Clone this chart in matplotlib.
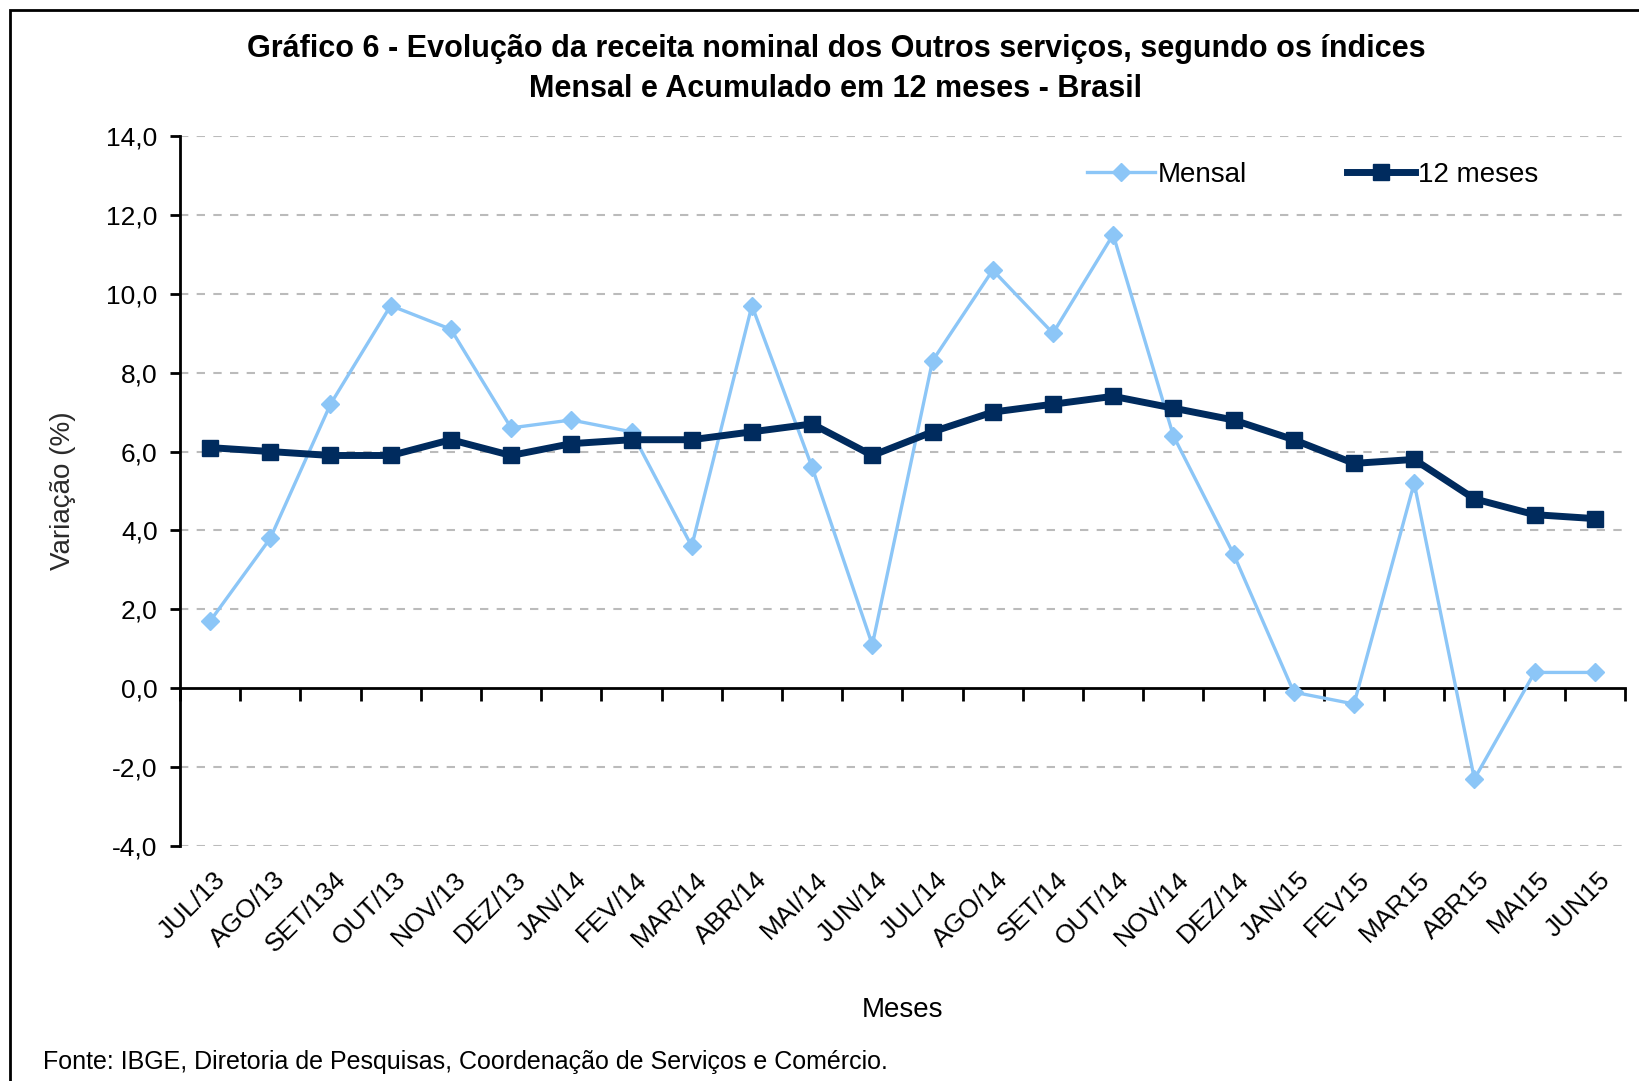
import numpy as np
import matplotlib.pyplot as plt
from matplotlib.patches import Rectangle

plt.rcParams['font.family'] = ['Liberation Sans', 'DejaVu Sans']

meses = ['JUL/13', 'AGO/13', 'SET/134', 'OUT/13', 'NOV/13', 'DEZ/13',
         'JAN/14', 'FEV/14', 'MAR/14', 'ABR/14', 'MAI/14', 'JUN/14',
         'JUL/14', 'AGO/14', 'SET/14', 'OUT/14', 'NOV/14', 'DEZ/14',
         'JAN/15', 'FEV15', 'MAR15', 'ABR15', 'MAI15', 'JUN15']
mensal = [1.7, 3.8, 7.2, 9.7, 9.1, 6.6, 6.8, 6.5, 3.6, 9.7, 5.6, 1.1,
          8.3, 10.6, 9.0, 11.5, 6.4, 3.4, -0.1, -0.4, 5.2, -2.3, 0.4, 0.4]
doze_meses = [6.1, 6.0, 5.9, 5.9, 6.3, 5.9, 6.2, 6.3, 6.3, 6.5, 6.7, 5.9,
              6.5, 7.0, 7.2, 7.4, 7.1, 6.8, 6.3, 5.7, 5.8, 4.8, 4.4, 4.3]
y_ticks = [-4, -2, 0, 2, 4, 6, 8, 10, 12, 14]

fig = plt.figure(figsize=(16.39, 10.81), dpi=100)
ax = fig.add_axes([0.1098, 0.2174, 0.8816, 0.6568])

x = np.arange(len(meses))
ax.plot(x, mensal, color='#8CC6F7', lw=2.4, marker='D', ms=9,
        label='Mensal', zorder=3)
ax.plot(x, doze_meses, color='#002B5E', lw=5, marker='s', ms=11,
        label='12 meses', zorder=4)

ax.set_xlim(-0.5, len(meses) - 0.5)
ax.set_ylim(-4, 14)
ax.set_yticks(y_ticks)
ax.set_yticklabels([f'{v:.1f}'.replace('.', ',') for v in y_ticks], fontsize=19)
for v in y_ticks:
    if v != 0:
        ax.axhline(v, color='#BBBBBB', lw=1.5, ls=(0, (4, 4)), zorder=1)

ax.spines['top'].set_visible(False)
ax.spines['right'].set_visible(False)
ax.spines['left'].set_linewidth(2)
ax.spines['bottom'].set_position(('data', 0))
ax.spines['bottom'].set_linewidth(2)
ax.set_xticks(np.arange(-0.5, len(meses), 1.0))
ax.set_xticklabels([])
ax.tick_params(axis='x', direction='out', length=9, width=2)
ax.tick_params(axis='y', direction='out', length=7, width=2, pad=9)

for i, m in enumerate(meses):
    ax.text(i + 0.05, -0.03, m, transform=ax.get_xaxis_transform(),
            rotation=45, rotation_mode='anchor', ha='right', va='top',
            fontsize=19)

ax.set_ylabel('Variação (%)', fontsize=20, color='#2a2a2a', labelpad=22)

fig.legend(loc='center left', bbox_to_anchor=(0.648, 0.838), ncol=2,
           frameon=False, fontsize=20, handlelength=2.45, handletextpad=0.1,
           columnspacing=3.6)

fig.text(0.51, 0.955, 'Gráfico 6 - Evolução da receita nominal dos Outros serviços, segundo os índices',
         ha='center', va='center', fontsize=22, fontweight='bold')
fig.text(0.51, 0.918, 'Mensal e Acumulado em 12 meses - Brasil',
         ha='center', va='center', fontsize=22, fontweight='bold')
fig.text(0.5505, 0.066, 'Meses', ha='center', va='center', fontsize=20)
fig.text(0.026, 0.018, 'Fonte: IBGE, Diretoria de Pesquisas, Coordenação de Serviços e Comércio.',
         ha='left', va='center', fontsize=18)

fig.add_artist(Rectangle((0.0061, -0.05), 1.0, 1.0407, transform=fig.transFigure,
                         fill=False, edgecolor='black', lw=2))

plt.savefig('out.png', dpi=100)
